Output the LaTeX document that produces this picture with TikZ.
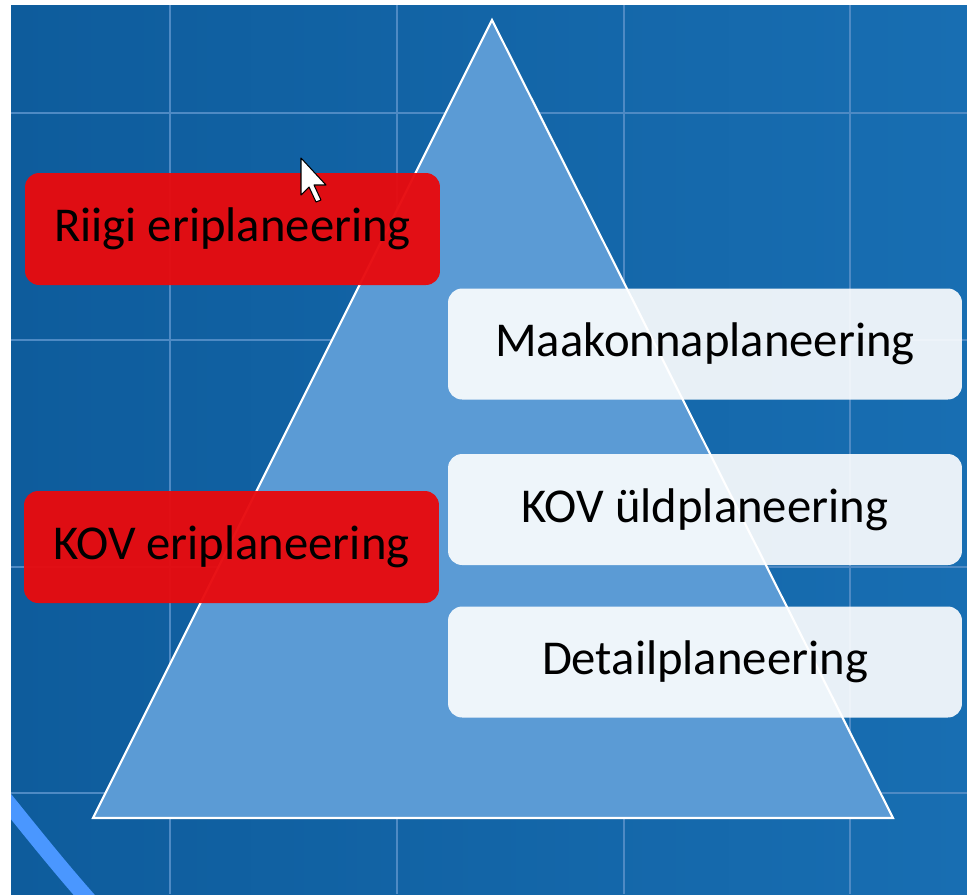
\documentclass[tikz,border=0pt]{standalone}
\usepackage{fontspec}
\setmainfont{Carlito}
\usepackage{tikz}

\definecolor{sfondo}{RGB}{24,110,178}
\definecolor{sfondoscuro}{RGB}{14,92,156}
\definecolor{griglia}{RGB}{78,138,196}
\definecolor{piramide}{RGB}{91,155,213}
\definecolor{rosso}{RGB}{232,10,14}
\definecolor{arco}{RGB}{74,151,255}

\begin{document}
\begin{tikzpicture}[x=0.02cm,y=-0.02cm]
\tikzstyle{statale} = [draw=none, fill=rosso, fill opacity=0.96, text opacity=1, rounded corners=8pt, minimum width=8.3cm, minimum height=2.24cm, font=\fontsize{27.7}{32}\selectfont]
\tikzstyle{locale} = [draw=none, fill=white, fill opacity=0.9, text opacity=1, rounded corners=8pt, minimum width=10.28cm, minimum height=2.22cm, font=\fontsize{27.7}{32}\selectfont]
\useasboundingbox (0,0) rectangle (967,894);
\shade[left color=sfondoscuro, right color=sfondo] (11,5) rectangle (967,894);
\foreach \x in {170,397,624,850}
  \draw[griglia, line width=0.6pt] (\x,5) -- (\x,894);
\foreach \y in {113,340,567,793}
  \draw[griglia, line width=0.6pt] (11,\y) -- (967,\y);
\begin{scope}
\clip (11,5) rectangle (967,894);
\draw[arco, line width=0.32cm] (0,793) .. controls (30,830) and (60,868) .. (94,906);
\end{scope}
\draw[white, line width=1.2pt, fill=piramide] (492,20) -- (893,818) -- (93,818) -- cycle;
\node[statale] (riigi) at (232.5,229) {Riigi eriplaneering};
\node[statale] (koveri) at (231.5,547) {KOV eriplaneering};
\node[locale] (maakond) at (705,344) {Maakonnaplaneering};
\node[locale] (kovyld) at (705,509.5) {KOV üldplaneering};
\node[locale] (detail) at (705,662) {Detailplaneering};
\draw[black, fill=white, line width=0.6pt, line join=round] (301,158) -- (301,195) -- (309,187) -- (316,202) -- (321,200) -- (314,185) -- (326,185) -- cycle;
\end{tikzpicture}
\end{document}
